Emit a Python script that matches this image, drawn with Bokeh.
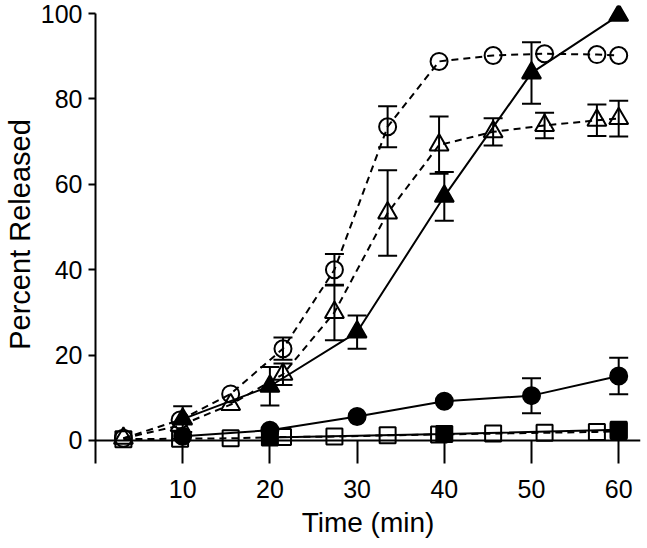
from bokeh.plotting import figure
from bokeh.models import Span, Whisker, TeeHead, ColumnDataSource, FixedTicker, Range1d
from bokeh.embed import file_html
from bokeh.resources import INLINE

# ---- data ----
t_open = [3.2, 9.7, 15.5, 21.5, 27.4, 33.5, 39.4, 45.6, 51.5, 57.5, 60.0]
open_circle = [0.5, 4.8, 10.9, 21.5, 40.0, 73.5, 88.8, 90.2, 90.6, 90.4, 90.2]
open_circle_err = [0, 0, 0, 2.6, 3.7, 4.8, 0, 0, 0, 0, 0]
open_triangle = [0.5, 3.5, 8.4, 15.5, 30.0, 53.3, 69.2, 72.3, 73.8, 75.0, 75.4]
open_triangle_err = [0, 0, 0, 2.5, 6.5, 10.0, 6.7, 3.2, 3.0, 3.7, 4.2]
open_square = [0.3, 0.4, 0.5, 0.8, 0.9, 1.2, 1.4, 1.6, 1.8, 2.0, 2.2]

t_filled = [10, 20, 30, 40, 50, 60]
filled_triangle = [5.0, 12.7, 25.4, 57.2, 86.1, 99.6]
filled_triangle_err = [3.0, 4.5, 3.9, 5.7, 7.2, 0]
filled_circle = [1.0, 2.4, 5.6, 9.2, 10.5, 15.1]
filled_circle_err = [0, 0, 0, 0, 4.1, 4.3]

t_filled_sq = [20, 40, 60]
filled_square = [0.7, 1.5, 2.5]

x_ticks = [10, 20, 30, 40, 50, 60]
y_ticks = [0, 20, 40, 60, 80, 100]

FONT = "Liberation Sans"

p = figure(width=647, height=548, output_backend="svg", toolbar_location=None,
           x_range=Range1d(0, 62.5), y_range=Range1d(-5.4, 101.9),
           min_border_left=95, min_border_right=7, min_border_top=5, min_border_bottom=85)
p.outline_line_color = None
p.grid.visible = False

# x axis: labels below, ticks rising to the zero line
xa = p.xaxis[0]
xa.ticker = FixedTicker(ticks=x_ticks)
xa.axis_line_color = None
xa.major_tick_in = 23
xa.major_tick_out = 0
xa.minor_tick_line_color = None
xa.major_tick_line_width = 2
xa.major_tick_line_color = "black"
xa.major_label_text_font = FONT
xa.major_label_text_font_size = "25px"
xa.major_label_text_color = "black"
xa.major_label_standoff = 16
xa.axis_label = "Time (min)"
xa.axis_label_text_font = FONT
xa.axis_label_text_font_size = "28px"
xa.axis_label_text_font_style = "normal"
xa.axis_label_text_color = "black"
xa.axis_label_standoff = 6

ya = p.yaxis[0]
ya.ticker = FixedTicker(ticks=y_ticks)
ya.bounds = (-5.4, 100)
ya.axis_line_width = 2
ya.axis_line_color = "black"
ya.major_tick_in = 0
ya.major_tick_out = 7
ya.minor_tick_line_color = None
ya.major_tick_line_width = 2
ya.major_tick_line_color = "black"
ya.major_label_text_font = FONT
ya.major_label_text_font_size = "25px"
ya.major_label_text_color = "black"
ya.major_label_standoff = 6
ya.axis_label = "Percent Released"
ya.axis_label_text_font = FONT
ya.axis_label_text_font_size = "29px"
ya.axis_label_text_font_style = "normal"
ya.axis_label_text_color = "black"
ya.axis_label_standoff = 2

p.add_layout(Span(location=0, dimension="width", line_color="black", line_width=2))

DASH = "7 5"
LW = 2

# lines
p.line(t_open, open_circle, line_color="black", line_width=LW, line_dash=DASH)
p.line(t_open, open_triangle, line_color="black", line_width=LW, line_dash=DASH)
p.line(t_open, open_square, line_color="black", line_width=LW, line_dash=DASH)
p.line(t_filled, filled_triangle, line_color="black", line_width=LW)
p.line(t_filled, filled_circle, line_color="black", line_width=LW)
p.line(t_filled_sq, filled_square, line_color="black", line_width=LW)

# error bars
def add_err(ts, vs, es):
    keep = [(t, v, e) for t, v, e in zip(ts, vs, es) if e > 0]
    src = ColumnDataSource(dict(
        t=[k[0] for k in keep],
        upper=[k[1] + k[2] for k in keep],
        lower=[k[1] - k[2] for k in keep]))
    w = Whisker(source=src, base="t", upper="upper", lower="lower",
                line_color="black", line_width=LW,
                upper_head=TeeHead(size=19, line_width=LW, line_color="black"),
                lower_head=TeeHead(size=19, line_width=LW, line_color="black"))
    p.add_layout(w)

add_err(t_open, open_circle, open_circle_err)
add_err(t_open, open_triangle, open_triangle_err)
add_err(t_filled, filled_triangle, filled_triangle_err)
add_err(t_filled, filled_circle, filled_circle_err)

# markers
p.scatter(t_open, open_circle, marker="circle", size=17, fill_alpha=0,
          line_color="black", line_width=LW)
p.scatter(t_open, open_triangle, marker="triangle", size=19, fill_alpha=0,
          line_color="black", line_width=LW)
p.scatter(t_open, open_square, marker="square", size=16, fill_alpha=0,
          line_color="black", line_width=LW)
p.scatter(t_filled_sq, filled_square, marker="square", size=16, fill_color="black",
          line_color="black", line_width=LW)
p.scatter(t_filled, filled_circle, marker="circle", size=17, fill_color="black",
          line_color="black", line_width=LW)
p.scatter(t_filled, filled_triangle, marker="triangle", size=19, fill_color="black",
          line_color="black", line_width=LW)

open("out.html", "w").write(file_html(p, INLINE))
